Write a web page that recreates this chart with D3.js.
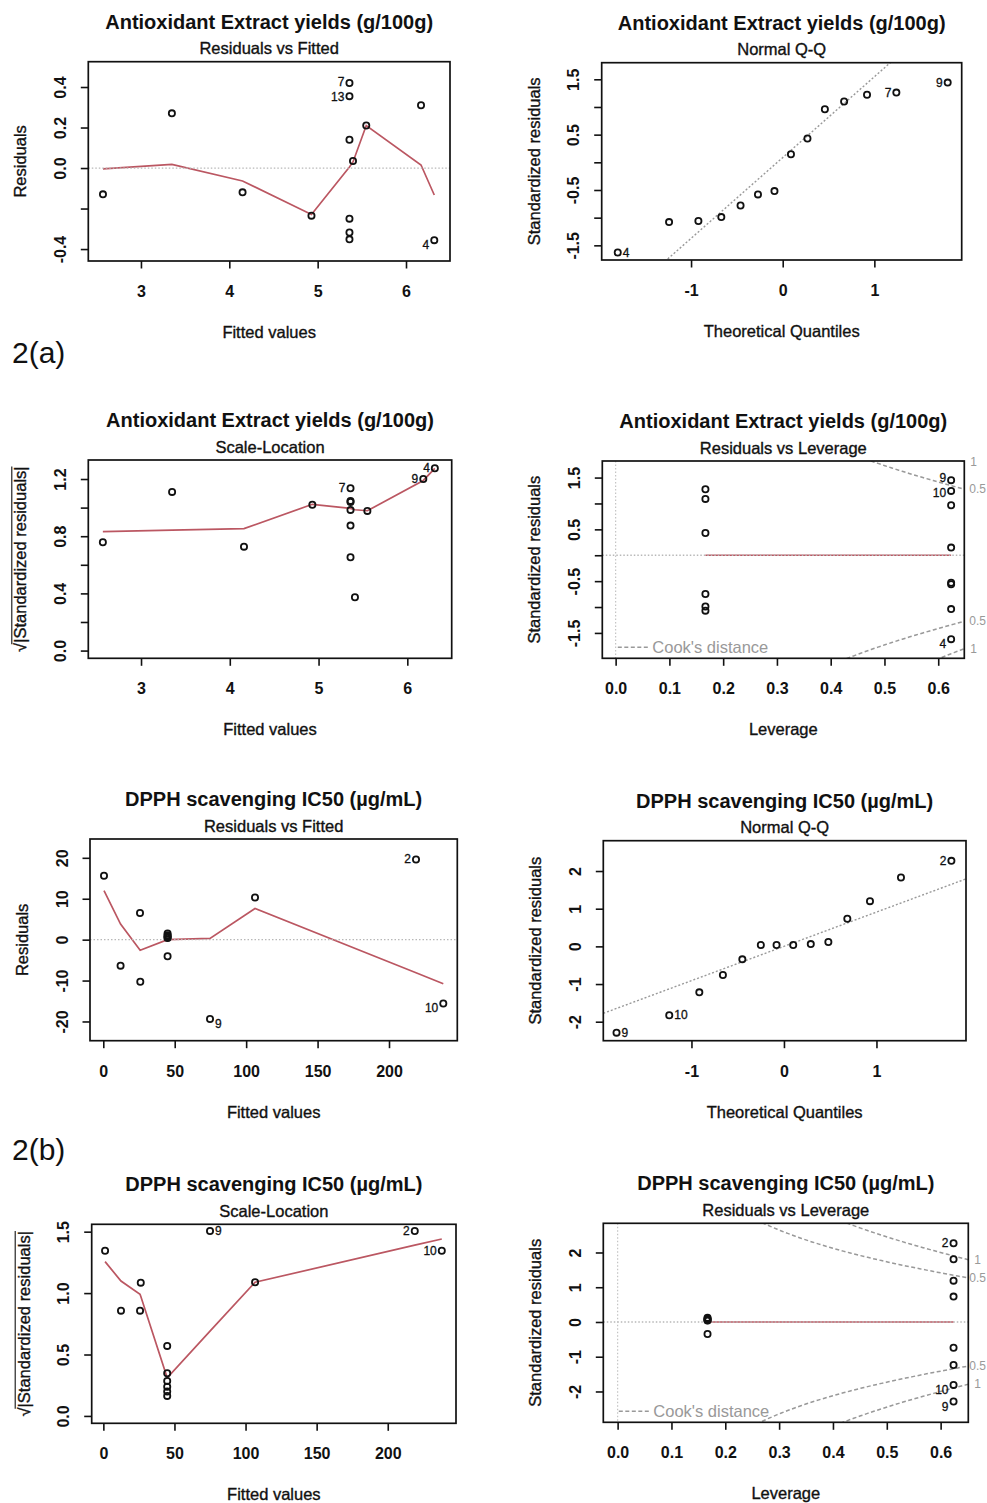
<!DOCTYPE html>
<html>
<head>
<meta charset="utf-8">
<title>Regression diagnostics</title>
<script src="https://cdn.jsdelivr.net/npm/d3@7/dist/d3.min.js"></script>
<style>
  body { margin: 0; background: #fff; }
  text { font-family: "Liberation Sans", Arial, Helvetica, sans-serif; }
</style>
</head>
<body>
<svg id="chart" width="987" height="1503"></svg>
<script>
// titles
var titleA = "Antioxidant Extract yields (g/100g)";
var titleB = "DPPH scavenging IC50 (\u00b5g/mL)";

// ---- 2(a) residuals vs fitted
var aRvfX = [2.57, 3.35, 4.15, 4.93, 5.36, 5.36, 5.36, 5.36, 5.36, 5.36, 5.40, 5.55, 6.17, 6.32];
var aRvfY = [-0.13, 0.27, -0.12, -0.235, 0.42, 0.355, 0.14, -0.25, -0.318, -0.352, 0.035, 0.21, 0.31, -0.356];
var aRvfLab = ["", "", "", "", "7", "13", "", "", "", "", "", "", "", "4"];
var aRvfSmX = [2.57, 3.35, 4.15, 4.93, 5.36, 5.40, 5.55, 6.17, 6.32];
var aRvfSmY = [-0.004, 0.018, -0.064, -0.229, 0.005, 0.03, 0.21, 0.015, -0.133];

// ---- 2(a) normal Q-Q
var aQqX = [-1.80, -1.24, -0.92, -0.67, -0.46, -0.27, -0.09, 0.09, 0.27, 0.46, 0.67, 0.92, 1.24, 1.80];
var aQqY = [-1.63, -1.08, -1.06, -0.99, -0.78, -0.58, -0.52, 0.145, 0.43, 0.96, 1.10, 1.22, 1.26, 1.44];
var aQqLab = ["4", "", "", "", "", "", "", "", "", "", "", "", "7", "9"];
var aQqLine = {slope: 1.46, intercept: 0.086};

// ---- 2(a) scale-location
var aSlX = [2.57, 3.35, 4.16, 4.93, 5.36, 5.36, 5.36, 5.36, 5.36, 5.36, 5.41, 5.55, 6.18, 6.31];
var aSlY = [0.758, 1.11, 0.727, 1.02, 1.135, 1.047, 1.04, 0.984, 0.874, 0.653, 0.373, 0.977, 1.20, 1.275];
var aSlLab = ["", "", "", "", "7", "", "", "", "", "", "", "", "9", "4"];
var aSlSmX = [2.57, 3.35, 4.16, 4.93, 5.36, 5.41, 5.55, 6.18, 6.31];
var aSlSmY = [0.832, 0.842, 0.853, 1.023, 0.995, 0.985, 0.978, 1.19, 1.275];

// ---- 2(a) residuals vs leverage
var aLevX = [0.167, 0.167, 0.167, 0.167, 0.167, 0.167, 0.624, 0.624, 0.624, 0.624, 0.624, 0.624, 0.624, 0.624];
var aLevY = [1.275, 1.088, 0.43, -0.747, -0.99, -1.07, 1.45, 1.243, 0.966, 0.148, -0.53, -0.56, -1.04, -1.62];
var aLevLab = ["", "", "", "", "", "", "9", "10", "", "", "", "", "", "4"];
var aLevSmX = [0.167, 0.624];
var aLevSmY = [0, 0];

// ---- 2(b) residuals vs fitted
var bRvfX = [0.5, 12.1, 25.7, 25.9, 45, 45, 45, 45, 45, 45, 74.7, 106.2, 218.9, 238];
var bRvfY = [15.6, -6.35, 6.5, -10.3, 1.5, 1.1, 0.8, 0.5, 0.4, -4.07, -19.4, 10.3, 19.6, -15.6];
var bRvfLab = ["", "", "", "", "", "", "", "", "", "", "9", "", "2", "10"];
var bRvfSmX = [0.5, 12.1, 25.8, 45, 74.7, 106.2, 218.9, 238];
var bRvfSmY = [12.0, 3.8, -2.6, 0.0, 0.3, 7.6, -8.1, -10.8];

// ---- 2(b) normal Q-Q
var bQqX = [-1.81, -1.24, -0.915, -0.66, -0.45, -0.25, -0.08, 0.10, 0.29, 0.48, 0.685, 0.93, 1.265, 1.81];
var bQqY = [-2.29, -1.83, -1.22, -0.76, -0.345, 0.035, 0.035, 0.035, 0.06, 0.115, 0.735, 1.20, 1.83, 2.27];
var bQqLab = ["9", "10", "", "", "", "", "", "", "", "", "", "", "", "2"];
var bQqLine = {slope: 0.91, intercept: 0.0};

// ---- 2(b) scale-location
var bSlX = [1.2, 12.4, 25.8, 26.3, 44.9, 44.9, 44.9, 44.9, 44.9, 44.9, 75, 106.7, 219, 238];
var bSlY = [1.345, 0.857, 0.857, 1.085, 0.57, 0.347, 0.285, 0.238, 0.198, 0.163, 1.505, 1.088, 1.505, 1.345];
var bSlLab = ["", "", "", "", "", "", "", "", "", "", "9", "", "2", "10"];
var bSlSmX = [1.2, 12.4, 25.8, 26.3, 44.9, 75, 106.7, 219, 238];
var bSlSmY = [1.256, 1.098, 0.99, 0.975, 0.31, 0.69, 1.088, 1.39, 1.44];

// ---- 2(b) residuals vs leverage
var bLevX = [0.167, 0.167, 0.167, 0.167, 0.167, 0.167, 0.624, 0.624, 0.624, 0.624, 0.624, 0.624, 0.624, 0.624];
var bLevY = [0.12, 0.09, 0.07, 0.05, 0.04, -0.345, 2.268, 1.807, 1.19, 0.73, -0.74, -1.24, -1.81, -2.29];
var bLevLab = ["", "", "", "", "", "", "2", "", "", "", "", "", "10", "9"];
var bLevSmX = [0.167, 0.624];
var bLevSmY = [0, 0];

// cook's distance contours
var cookLevels = [0.5, 1];
var nParams = 6;

// ticks
var fitTicksA = [3, 4, 5, 6];
var fitTicksB = [0, 50, 100, 150, 200];
var qTicks = [-1, 0, 1];
var levTicks = [0, 0.1, 0.2, 0.3, 0.4, 0.5, 0.6];
var levTickLab = ["0.0", "0.1", "0.2", "0.3", "0.4", "0.5", "0.6"];
var resTicksA = [-0.4, -0.2, 0, 0.2, 0.4];
var resTickLabA = ["-0.4", "", "0.0", "0.2", "0.4"];
var stdTicksA = [-1.5, -1, -0.5, 0, 0.5, 1, 1.5];
var stdTickLabA = ["-1.5", "", "-0.5", "", "0.5", "", "1.5"];
var slTicksA = [0, 0.2, 0.4, 0.6, 0.8, 1.0, 1.2];
var slTickLabA = ["0.0", "", "0.4", "", "0.8", "", "1.2"];
var resTicksB = [-20, -10, 0, 10, 20];
var stdTicksB = [-2, -1, 0, 1, 2];
var slTicksB = [0, 0.5, 1.0, 1.5];
var slTickLabB = ["0.0", "0.5", "1.0", "1.5"];

var svg = d3.select("#chart");
var red = "#bb5762";
var ink = "#111";
var pageW = 987;

var sqrtLab = "\u221a|Standardized residuals|";

var panels = [
  {box: [88.3, 61.7, 450, 261], xDom: [2.404, 6.498], yDom: [-0.459, 0.525],
   title: titleA, sub: "Residuals vs Fitted", xlab: "Fitted values", ylab: "Residuals",
   xt: fitTicksA, yt: resTicksA, ytl: resTickLabA,
   x: aRvfX, y: aRvfY, lab: aRvfLab, smX: aRvfSmX, smY: aRvfSmY, zeroH: true, shiftNeg: true},
  {box: [601.7, 62.7, 961.7, 260], xDom: [-1.975, 1.953], yDom: [-1.765, 1.80],
   title: titleA, sub: "Normal Q-Q", xlab: "Theoretical Quantiles", ylab: "Standardized residuals",
   xt: qTicks, yt: stdTicksA, ytl: stdTickLabA,
   x: aQqX, y: aQqY, lab: aQqLab, qq: aQqLine},
  {box: [88.3, 460, 451.7, 658.3], xDom: [2.406, 6.50], yDom: [-0.054, 1.333],
   title: titleA, sub: "Scale-Location", xlab: "Fitted values", ylab: sqrtLab, sqrt: true,
   xt: fitTicksA, yt: slTicksA, ytl: slTickLabA,
   x: aSlX, y: aSlY, lab: aSlLab, smX: aSlSmX, smY: aSlSmY},
  {box: [602.3, 461, 964.3, 658.3], xDom: [-0.0248, 0.6485], yDom: [-1.99, 1.82],
   title: titleA, sub: "Residuals vs Leverage", xlab: "Leverage", ylab: "Standardized residuals",
   xt: levTicks, xtl: levTickLab, yt: stdTicksA, ytl: stdTickLabA,
   x: aLevX, y: aLevY, lab: aLevLab, smX: aLevSmX, smY: aLevSmY, zeroH: true, zeroV: true, cook: true, shiftNeg: true},
  {box: [90, 839, 457.3, 1040.7], xDom: [-9.3, 247.8], yDom: [-24.7, 24.6],
   title: titleB, sub: "Residuals vs Fitted", xlab: "Fitted values", ylab: "Residuals",
   xt: fitTicksB, yt: resTicksB,
   x: bRvfX, y: bRvfY, lab: bRvfLab, smX: bRvfSmX, smY: bRvfSmY, zeroH: true, shiftNeg: true},
  {box: [603.3, 840.7, 966, 1040.7], xDom: [-1.953, 1.968], yDom: [-2.504, 2.805],
   title: titleB, sub: "Normal Q-Q", xlab: "Theoretical Quantiles", ylab: "Standardized residuals",
   xt: qTicks, yt: stdTicksB,
   x: bQqX, y: bQqY, lab: bQqLab, qq: bQqLine},
  {box: [91.7, 1224.3, 456, 1423.3], xDom: [-8.2, 248], yDom: [-0.06, 1.56],
   title: titleB, sub: "Scale-Location", xlab: "Fitted values", ylab: sqrtLab, sqrt: true,
   xt: fitTicksB, yt: slTicksB, ytl: slTickLabB,
   x: bSlX, y: bSlY, lab: bSlLab, smX: bSlSmX, smY: bSlSmY},
  {box: [603.3, 1223.3, 968.3, 1422.3], xDom: [-0.0266, 0.6514], yDom: [-2.887, 2.84],
   title: titleB, sub: "Residuals vs Leverage", xlab: "Leverage", ylab: "Standardized residuals",
   xt: levTicks, xtl: levTickLab, yt: stdTicksB,
   x: bLevX, y: bLevY, lab: bLevLab, smX: bLevSmX, smY: bLevSmY, zeroH: true, zeroV: true, cook: true, shiftNeg: true}
];

panels.forEach(function(p, idx) {
  var b = p.box;
  var x = d3.scaleLinear().domain(p.xDom).range([b[0], b[2]]);
  var y = d3.scaleLinear().domain(p.yDom).range([b[3], b[1]]);
  var g = svg.append("g");
  var cx = (b[0] + b[2]) / 2, cy = (b[1] + b[3]) / 2;

  var clipId = "clip" + idx;
  svg.append("clipPath").attr("id", clipId).append("rect")
    .attr("x", b[0]).attr("y", b[1]).attr("width", b[2] - b[0]).attr("height", b[3] - b[1]);
  var inner = g.append("g").attr("clip-path", "url(#" + clipId + ")");

  // points
  var idxs = d3.range(p.x.length);
  g.selectAll("circle.pt").data(idxs).join("circle")
    .attr("class", "pt")
    .attr("cx", function(i) { return x(p.x[i]); })
    .attr("cy", function(i) { return y(p.y[i]); })
    .attr("r", 3.1)
    .attr("fill", "none").attr("stroke", ink).attr("stroke-width", 1.8);

  // id labels (left of the point in the right half, right of it otherwise)
  var midX = (p.xDom[0] + p.xDom[1]) / 2;
  var ids = g.selectAll("text.id").data(idxs.filter(function(i) { return p.lab[i] !== ""; })).join("text")
    .attr("class", "id")
    .attr("x", function(i) { return x(p.x[i]) + (p.x[i] > midX ? -5 : 5); })
    .attr("y", function(i) { return y(p.y[i]) + (p.shiftNeg && p.y[i] < 0 ? 5 : 0); })
    .attr("text-anchor", function(i) { return p.x[i] > midX ? "end" : "start"; })
    .attr("dominant-baseline", "central")
    .attr("font-size", 12).attr("fill", ink)
    .attr("stroke", ink).attr("stroke-width", 0.3)
    .text(function(i) { return p.lab[i]; });

  // nudge labels that collide apart vertically
  var nodes = ids.nodes();
  for (var a = 0; a < nodes.length; a++) {
    for (var c2 = a + 1; c2 < nodes.length; c2++) {
      var ba = nodes[a].getBBox(), bb = nodes[c2].getBBox();
      var ovx = ba.x < bb.x + bb.width && bb.x < ba.x + ba.width;
      var ovy = ba.y < bb.y + bb.height && bb.y < ba.y + ba.height;
      if (ovx && ovy) {
        var upper = ba.y <= bb.y ? nodes[a] : nodes[c2];
        var lower = upper === nodes[a] ? nodes[c2] : nodes[a];
        var push = (Math.min(ba.y + ba.height, bb.y + bb.height) - Math.max(ba.y, bb.y)) / 2 + 0.5;
        d3.select(upper).attr("y", +upper.getAttribute("y") - push);
        d3.select(lower).attr("y", +lower.getAttribute("y") + push);
      }
    }
  }

  // lowess
  if (p.smX) {
    inner.append("path")
      .datum(d3.zip(p.smX, p.smY))
      .attr("d", d3.line().x(function(d) { return x(d[0]); }).y(function(d) { return y(d[1]); }))
      .attr("fill", "none").attr("stroke", red).attr("stroke-width", 1.7);
  }

  // reference lines
  if (p.zeroH) {
    inner.append("line").attr("x1", b[0]).attr("x2", b[2]).attr("y1", y(0)).attr("y2", y(0))
      .attr("stroke", "#b8b8b8").attr("stroke-width", 1.3).attr("stroke-dasharray", "1.5,2");
  }
  if (p.zeroV) {
    inner.append("line").attr("x1", x(0)).attr("x2", x(0)).attr("y1", b[1]).attr("y2", b[3])
      .attr("stroke", "#c4c4c4").attr("stroke-width", 1.2).attr("stroke-dasharray", "1.5,2");
  }
  if (p.qq) {
    inner.append("line")
      .attr("x1", x(p.xDom[0])).attr("y1", y(p.qq.intercept + p.qq.slope * p.xDom[0]))
      .attr("x2", x(p.xDom[1])).attr("y2", y(p.qq.intercept + p.qq.slope * p.xDom[1]))
      .attr("stroke", "#999").attr("stroke-width", 1.4).attr("stroke-dasharray", "2,2");
  }
  if (p.cook) {
    var hMin = d3.max(p.x) / 100, hMax = p.xDom[1];
    var hh = d3.range(101).map(function(i) { return hMin + i * (hMax - hMin) / 100; });
    var curve = d3.line().x(function(d) { return x(d[0]); }).y(function(d) { return y(d[1]); });
    cookLevels.forEach(function(c) {
      [1, -1].forEach(function(s) {
        inner.append("path")
          .datum(hh.map(function(h) { return [h, s * Math.sqrt(c * nParams * (1 - h) / h)]; }))
          .attr("d", curve)
          .attr("fill", "none").attr("stroke", "#999").attr("stroke-width", 1.5)
          .attr("stroke-dasharray", "4,2.5");
        var t = g.append("text")
          .attr("x", b[2] + 6)
          .attr("y", y(s * Math.sqrt(c * nParams * (1 - hMax) / hMax)))
          .attr("dominant-baseline", "central")
          .attr("font-size", 12).attr("fill", "#999")
          .text(String(c));
        // keep the margin label inside the page
        var w = t.node().getComputedTextLength();
        if (b[2] + 6 + w > pageW - 1) t.attr("x", pageW - 1 - w);
      });
    });
    // legend
    g.append("line").attr("x1", b[0] + 15.5).attr("x2", b[0] + 47)
      .attr("y1", b[3] - 11).attr("y2", b[3] - 11)
      .attr("stroke", "#999").attr("stroke-width", 1.5).attr("stroke-dasharray", "4,2.5");
    g.append("text").attr("x", b[0] + 50).attr("y", b[3] - 11)
      .attr("dominant-baseline", "central")
      .attr("font-size", 16.5).attr("fill", "#999")
      .text("Cook's distance");
  }

  // box
  g.append("rect").attr("x", b[0]).attr("y", b[1])
    .attr("width", b[2] - b[0]).attr("height", b[3] - b[1])
    .attr("fill", "none").attr("stroke", ink).attr("stroke-width", 1.7);

  // x axis
  var xa = d3.axisBottom(x).tickValues(p.xt).tickSize(7.5)
    .tickFormat(function(d, i) { return p.xtl ? p.xtl[i] : String(d); });
  var gx = g.append("g").attr("transform", "translate(0," + b[3] + ")").call(xa);
  gx.select(".domain").remove();
  gx.selectAll(".tick line").attr("stroke", ink).attr("stroke-width", 1.6);
  gx.selectAll(".tick text").attr("y", 36).attr("dy", null)
    .attr("font-size", 16).attr("font-weight", "bold").attr("fill", ink)
    .attr("font-family", "Liberation Sans, Arial, sans-serif");

  // y axis, labels parallel to the axis
  var ya = d3.axisLeft(y).tickValues(p.yt).tickSize(7.5)
    .tickFormat(function(d, i) { return p.ytl ? p.ytl[i] : String(d); });
  var gy = g.append("g").attr("transform", "translate(" + b[0] + ",0)").call(ya);
  gy.select(".domain").remove();
  gy.selectAll(".tick line").attr("stroke", ink).attr("stroke-width", 1.6);
  gy.selectAll(".tick text").attr("x", null).attr("dy", null)
    .attr("transform", "translate(-22.5,0) rotate(-90)")
    .attr("text-anchor", "middle")
    .attr("font-size", 16).attr("font-weight", "bold").attr("fill", ink)
    .attr("font-family", "Liberation Sans, Arial, sans-serif");

  // titles
  g.append("text").attr("x", cx).attr("y", b[1] - 33).attr("text-anchor", "middle")
    .attr("font-size", 20).attr("font-weight", "bold").attr("fill", ink).text(p.title);
  g.append("text").attr("x", cx).attr("y", b[1] - 7.5).attr("text-anchor", "middle")
    .attr("font-size", 16.5).attr("fill", ink).attr("stroke", ink).attr("stroke-width", 0.35)
    .text(p.sub);
  g.append("text").attr("x", cx).attr("y", b[3] + 77).attr("text-anchor", "middle")
    .attr("font-size", 16.5).attr("fill", ink).attr("stroke", ink).attr("stroke-width", 0.35)
    .text(p.xlab);

  var gyl = g.append("g").attr("transform", "translate(" + (b[0] - 62) + "," + cy + ") rotate(-90)");
  var yl = gyl.append("text").attr("text-anchor", "middle")
    .attr("font-size", 16.5).attr("fill", ink).attr("stroke", ink).attr("stroke-width", 0.35)
    .text(p.ylab);
  if (p.sqrt) {
    var total = yl.node().getComputedTextLength();
    var rootW = yl.node().getSubStringLength(0, 1);
    gyl.append("line")
      .attr("x1", -total / 2 + rootW * 0.85).attr("x2", total / 2)
      .attr("y1", -14.5).attr("y2", -14.5)
      .attr("stroke", ink).attr("stroke-width", 1.1);
  }
});

// figure part labels
svg.append("text").attr("x", 12).attr("y", 363)
  .attr("font-family", "Liberation Serif, Times New Roman, serif")
  .attr("font-size", 30).attr("fill", ink).text("2(a)");
svg.append("text").attr("x", 12).attr("y", 1160)
  .attr("font-family", "Liberation Serif, Times New Roman, serif")
  .attr("font-size", 30).attr("fill", ink).text("2(b)");
</script>
</body>
</html>
